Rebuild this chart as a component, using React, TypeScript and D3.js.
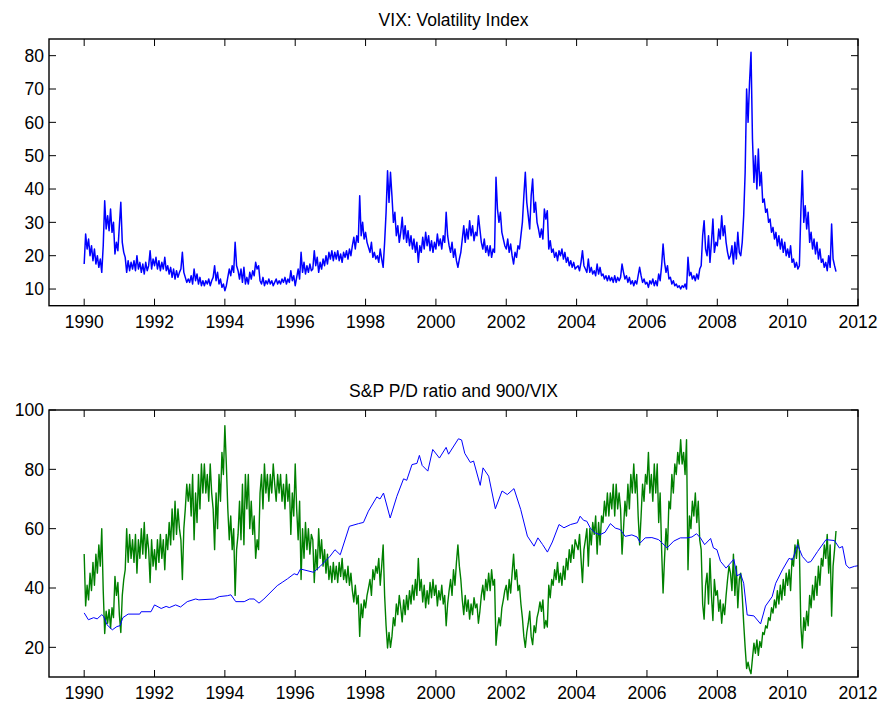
import React from 'react';
import * as d3 from 'd3';

// ---------- DATA ----------
const vixStartYear = 1990;
const vixStepsPerYear = 24; // half-monthly readings
const vixValues: number[] = [
  // 1990
  17.5, 26.5, 22, 25, 20, 23, 18.5, 22, 17.5, 20, 16.5, 19, 15, 23, 36.5, 28, 32, 27.5, 34, 27, 30, 20.5, 24, 21.5,
  // 1991
  29, 36, 24, 21, 19.5, 15, 18.5, 15.5, 18, 16, 18.5, 15.5, 20, 16, 18, 15, 17.5, 14.5, 18, 15.5, 17, 21.5, 16, 19,
  // 1992
  17, 19.5, 16, 18.5, 15.5, 18, 16, 19.5, 15.5, 17, 14.5, 16.5, 13.5, 16, 13, 15.5, 13.5, 15, 16, 21, 15, 13.5, 12, 13,
  // 1993
  12, 14, 11.5, 16, 12.5, 14.5, 11.5, 13.5, 11, 12.5, 11, 12.5, 11.5, 13, 11, 12.5, 13.5, 17, 12.5, 15, 11.5, 13, 10.5, 11.5,
  // 1994
  9.5, 11, 13.5, 16, 14, 17, 15, 24, 17, 15.5, 13, 16, 12, 16.5, 11.5, 13.5, 11.5, 15, 13, 15.5, 14, 18, 16, 17,
  // 1995
  12.5, 11.5, 13.5, 11, 12.5, 11.5, 13, 11.5, 12.5, 11, 12, 13, 11.5, 12.5, 11.5, 13, 12, 13.5, 11.5, 13, 12, 15.5, 12.5, 14,
  // 1996
  11, 13.5, 16, 13, 21, 15, 18, 14.5, 17, 15, 17.5, 15.5, 16, 21.5, 17, 19.5, 15, 18, 16, 19, 17, 20, 17.5, 21,
  // 1997
  19, 21.5, 18.5, 21, 19, 21.5, 18.5, 20.5, 18, 21, 19.5, 21.5, 19, 22, 20, 23, 25.5, 22, 26, 24, 38, 26, 30, 25,
  // 1998
  27, 24, 22.5, 21, 24, 19.5, 21, 19, 20, 18, 22, 19, 16.5, 24, 33, 45.5, 36, 45, 38, 30, 33, 26, 29, 24,
  // 1999
  27, 31.5, 25, 29, 24, 27.5, 23, 26, 22, 25, 21, 24, 18, 23, 21, 25.5, 22, 27, 23, 26, 21.5, 24.5, 21, 24,
  // 2000
  22, 26.5, 23, 25, 22, 26, 24, 33, 26, 23, 21, 24, 19.5, 22, 18.5, 16.5, 19, 21, 25, 29, 24, 28, 25, 30.5,
  // 2001
  26, 29, 24.5, 27, 26, 32, 28, 24, 22, 25, 21, 23, 20, 23, 19.5, 22, 21, 43.5, 34, 30, 33, 27, 25, 23,
  // 2002
  22, 25, 21, 23.5, 20, 17.5, 21, 19.5, 23, 22, 26, 30, 38, 45, 36, 32, 28, 38, 43, 33, 36, 30, 28, 25.5,
  // 2003
  28, 25, 34, 31, 33.5, 22, 24.5, 21, 22, 19.5, 21, 18.5, 21.5, 20, 22, 19, 21, 18, 19.5, 17, 18.5, 16.5, 18, 16,
  // 2004
  16.5, 17, 15.5, 18, 21.5, 17, 16, 15, 19, 15, 16.5, 14.5, 15.5, 14, 17.5, 14.5, 16.5, 14, 14.5, 13, 14, 12.5, 14, 12.5,
  // 2005
  13.5, 12, 14, 12, 13.5, 12.5, 13.5, 17.5, 15, 13, 14, 12, 13.5, 11.5, 12.5, 11, 12.5, 11.5, 14, 16.5, 14, 12, 13, 11.5,
  // 2006
  12, 10.5, 12.5, 11.5, 13, 11, 12.5, 11, 14.5, 12.5, 17, 23.5, 18, 15, 17, 13, 13.5, 11.5, 12.5, 11, 11.5, 10.5, 11, 10,
  // 2007
  11, 10.5, 11.5, 10, 19.5, 14, 15, 13, 14, 12.5, 14.5, 13, 16, 17, 26, 30.5, 22, 20, 26, 18, 24, 31, 21, 24,
  // 2008
  23, 28, 25, 32, 26, 29, 24, 21, 19, 20, 23, 17.5, 24, 19, 27, 21, 20, 24, 32, 45, 70, 60, 72, 81,
  // 2009
  55, 42, 50, 40, 52, 41, 45, 36, 37, 33, 34, 30, 31, 27, 28.5, 25, 27, 23, 26, 22, 25, 21, 24, 20,
  // 2010
  22, 19.5, 23, 18, 19, 16.5, 18, 16, 17, 33, 45.5, 30, 35, 28, 33, 24, 27, 22, 25, 20.5, 24, 19, 22, 18,
  // 2011
  19, 16.5, 18, 15.5, 20, 16.5, 29.5, 19, 17, 15.2,
];

const pdYears: number[] = [
  1990.0, 1990.12, 1990.27, 1990.37, 1990.5, 1990.55, 1990.65, 1990.8, 1990.93, 1991.02, 1991.1, 1991.25, 1991.58, 1991.62, 1991.9,
  1992.0, 1992.19, 1992.33, 1992.42, 1992.6, 1992.74, 1992.93, 1993.17, 1993.26, 1993.7, 1993.84, 1994.07, 1994.17, 1994.31, 1994.55,
  1994.7, 1994.83, 1994.97, 1995.11, 1995.49, 1995.63, 1995.78, 1995.97, 1996.06, 1996.15, 1996.52, 1996.71, 1996.99, 1997.13, 1997.28,
  1997.54, 1997.8, 1997.94, 1998.08, 1998.32, 1998.41, 1998.51, 1998.7, 1998.89, 1999.08, 1999.17, 1999.32, 1999.46, 1999.53, 1999.61,
  1999.77, 1999.91, 2000.1, 2000.29, 2000.36, 2000.64, 2000.73, 2000.82, 2000.98, 2001.07, 2001.26, 2001.34, 2001.5, 2001.69, 2001.88,
  2002.03, 2002.22, 2002.41, 2002.6, 2002.79, 2002.9, 2003.03, 2003.17, 2003.31, 2003.5, 2003.64, 2003.83, 2004.02, 2004.1, 2004.2,
  2004.29, 2004.39, 2004.53, 2004.67, 2004.81, 2004.96, 2005.1, 2005.24, 2005.38, 2005.57, 2005.72, 2005.81, 2005.95, 2006.14, 2006.33,
  2006.43, 2006.57, 2006.76, 2006.95, 2007.14, 2007.28, 2007.41, 2007.52, 2007.64, 2007.81, 2007.89, 2007.99, 2008.09, 2008.25, 2008.33,
  2008.47, 2008.56, 2008.66, 2008.75, 2008.85, 2009.04, 2009.23, 2009.37, 2009.56, 2009.66, 2009.85, 2010.04, 2010.14, 2010.28, 2010.42,
  2010.57, 2010.66, 2010.85, 2011.09, 2011.33, 2011.47, 2011.56, 2011.66, 2011.75, 2011.9, 2012.0,
];
const pdValues: number[] = [
  31.6, 29.3, 30, 29.6, 31, 30.5, 27.6, 25.9, 27, 27.3, 30, 31.2, 31.2, 32, 32,
  34.3, 33.1, 33.8, 33.4, 34.3, 33.6, 35.4, 36.3, 36, 36.3, 37.1, 37.4, 37.7, 35.4, 35.4,
  36.3, 36.3, 34.9, 36.3, 40.8, 41.9, 43.1, 44.8, 44.4, 46.4, 45.3, 47.3, 50.7, 52.9, 51.2,
  60.8, 61.7, 62.1, 65.9, 70.7, 70, 72, 63.6, 70.9, 76.8, 76.3, 81.6, 82, 84.7, 81.3,
  79.4, 86.7, 83.8, 87.4, 85.1, 90.3, 89.9, 85.4, 82.3, 82.8, 74.6, 80.5, 77.7, 66.7, 72.7,
  71.5, 73.5, 66.5, 57.5, 54.1, 56.9, 54.7, 52.1, 55.5, 61.4, 60.3, 61.4, 62, 64.2, 62.8,
  62.5, 60.2, 58.5, 58, 58.8, 61.7, 60.2, 59.7, 57.4, 57.9, 57.2, 55.2, 56.9, 57, 56.3,
  55.2, 53.5, 55.8, 56.9, 56.9, 57.2, 58.3, 56.9, 54.6, 56.7, 53.5, 52.9, 49, 46.7, 47.8,
  49.7, 44.1, 44.8, 41.6, 30.9, 30.6, 27.9, 33.9, 37.1, 41.6, 46.1, 50, 49.5, 54.6, 50.6,
  48.6, 48.9, 52.3, 56.3, 56, 53.5, 54, 47.8, 46.7, 47.3, 47.5,
];

const ratioNumerator = 900; // green series = 900 / VIX
const xTicks = [1990, 1992, 1994, 1996, 1998, 2000, 2002, 2004, 2006, 2008, 2010, 2012];
const vixTicks = [10, 20, 30, 40, 50, 60, 70, 80];
const pdTicks = [20, 40, 60, 80, 100];
const titles = ['VIX: Volatility Index', 'S&P P/D ratio and 900/VIX'];

// ---------- LAYOUT ----------
const W = 879;
const H = 702;
const L = 49;
const R = 858;
const P1 = { top: 39, bottom: 305.7 };
const P2 = { top: 410, bottom: 677 };
const FONT = "'Liberation Sans', Arial, Helvetica, sans-serif";
const TICK = 7;

type Pt = [number, number];

function Panel({
  top, bottom, yDomain, yTicks, title, series, clipId,
}: {
  top: number; bottom: number; yDomain: [number, number]; yTicks: number[]; title: string;
  series: { data: Pt[]; color: string; width: number }[]; clipId: string;
}) {
  const x = d3.scaleLinear().domain([1989, 2012]).range([L, R]);
  const y = d3.scaleLinear().domain(yDomain).range([bottom, top]);
  const line = d3.line<Pt>().x((d) => x(d[0])).y((d) => y(d[1]));
  return (
    <g>
      <defs>
        <clipPath id={clipId}>
          <rect x={L} y={top} width={R - L} height={bottom - top} />
        </clipPath>
      </defs>
      <text x={(L + R) / 2} y={top - 13.5} textAnchor="middle" fontFamily={FONT} fontSize={17.5} fill="#000">
        {title}
      </text>
      <g clipPath={`url(#${clipId})`}>
        {series.map((s, i) => (
          <path key={i} d={line(s.data) || ''} fill="none" stroke={s.color} strokeWidth={s.width} strokeLinejoin="round" />
        ))}
      </g>
      <rect x={L} y={top} width={R - L} height={bottom - top} fill="none" stroke="#000" strokeWidth={1.4} />
      {xTicks.map((t) => (
        <g key={'x' + t}>
          <line x1={x(t)} x2={x(t)} y1={bottom} y2={bottom - TICK} stroke="#000" strokeWidth={1} />
          <line x1={x(t)} x2={x(t)} y1={top} y2={top + TICK} stroke="#000" strokeWidth={1} />
          <text x={x(t)} y={bottom + 22} textAnchor="middle" fontFamily={FONT} fontSize={17.5} fill="#000">
            {t}
          </text>
        </g>
      ))}
      {yTicks.map((t) => (
        <g key={'y' + t}>
          <line x1={L} x2={L + TICK} y1={y(t)} y2={y(t)} stroke="#000" strokeWidth={1} />
          <line x1={R} x2={R - TICK} y1={y(t)} y2={y(t)} stroke="#000" strokeWidth={1} />
          <text x={L - 5} y={y(t)} dy="0.36em" textAnchor="end" fontFamily={FONT} fontSize={17.5} fill="#000">
            {t}
          </text>
        </g>
      ))}
    </g>
  );
}

export default function App() {
  const vixData: Pt[] = vixValues.map((v, i) => [vixStartYear + i / vixStepsPerYear, v]);
  const ratioData: Pt[] = vixValues.map((v, i) => [vixStartYear + i / vixStepsPerYear, ratioNumerator / v]);
  const pdData: Pt[] = pdYears.map((yr, i) => [yr, pdValues[i]]);
  return (
    <svg width={W} height={H} style={{ position: 'absolute', left: 0, top: 0, background: '#fff' }}>
      <rect width={W} height={H} fill="#fff" />
      <Panel
        top={P1.top}
        bottom={P1.bottom}
        yDomain={[5, 85]}
        yTicks={vixTicks}
        title={titles[0]}
        clipId="clip1"
        series={[{ data: vixData, color: '#0000ff', width: 1.5 }]}
      />
      <Panel
        top={P2.top}
        bottom={P2.bottom}
        yDomain={[10, 100]}
        yTicks={pdTicks}
        title={titles[1]}
        clipId="clip2"
        series={[
          { data: ratioData, color: '#008000', width: 1.4 },
          { data: pdData, color: '#0000ff', width: 1 },
        ]}
      />
    </svg>
  );
}
